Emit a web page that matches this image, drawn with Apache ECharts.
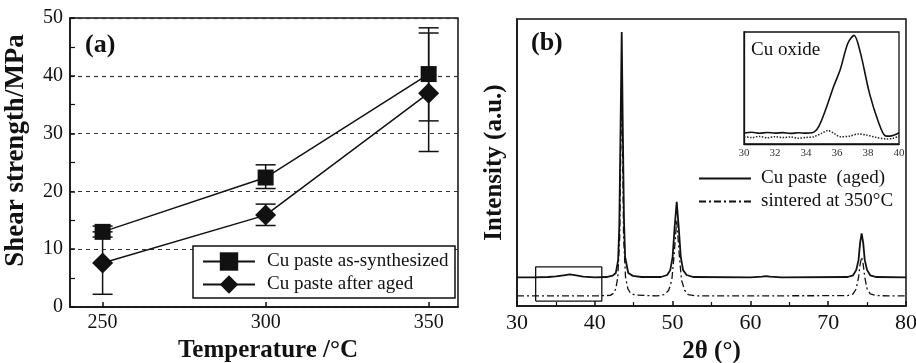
<!DOCTYPE html>
<html>
<head>
<meta charset="utf-8">
<script src="https://cdn.jsdelivr.net/npm/echarts@6/dist/echarts.min.js"></script>
<style>
  html, body { margin: 0; padding: 0; background: #fff; }
  #main { width: 916px; height: 363px; }
</style>
</head>
<body>
<div id="main"></div>
<script>
// (a) 剪切强度
const temps = [250, 300, 350]
const strengthFresh = [13.0, 22.4, 40.3]
const strengthAged = [7.6, 15.9, 37.0]
// 误差棒 [x, 下限, 上限]
const errFresh = [[250, 12.1, 14.0], [300, 20.5, 24.6], [350, 32.2, 48.3]]
const errAged = [[250, 2.2, 13.0], [300, 14.1, 17.8], [350, 26.9, 47.4]]
const tempTicks = [250, 300, 350]

// (b) XRD 图谱
const xrdAged = [[30, 10], [32, 10], [34, 10.1], [35, 10.3], [36, 10.7], [36.8, 11], [37.6, 10.7], [38.5, 10.2], [40, 10],
  [41.5, 10.1], [42.3, 10.6], [42.7, 11.5], [43.0, 16], [43.15, 28], [43.3, 60], [43.46, 95.5], [43.6, 62], [43.75, 30],
  [43.9, 17], [44.3, 11.5], [44.9, 10.5], [46, 10.1], [48.5, 10.1], [49.3, 10.8], [49.7, 12.5], [50.0, 17], [50.25, 27],
  [50.53, 36.3], [50.8, 27], [51.05, 17], [51.35, 12.5], [51.8, 10.8], [52.7, 10.1], [60, 10], [61.5, 10.2], [62, 10.4],
  [62.5, 10.2], [64, 10], [72.5, 10.1], [73.2, 10.7], [73.6, 12.5], [73.9, 16], [74.1, 22], [74.3, 25.3], [74.5, 22],
  [74.7, 16], [75.0, 12.5], [75.4, 10.7], [76.2, 10.1], [80, 10]]
const xrdSintered = [[30, 3.5], [40, 3.5], [42, 3.7], [42.4, 4.4], [42.7, 6], [42.95, 10], [43.2, 24], [43.46, 80], [43.7, 24],
  [43.95, 10], [44.25, 6], [44.6, 4.4], [45.2, 3.8], [48, 3.5], [49.0, 4], [49.5, 5.5], [49.9, 9], [50.2, 18], [50.53, 30],
  [50.85, 18], [51.15, 9], [51.55, 5.5], [52, 4], [53, 3.5], [72.5, 3.6], [73.2, 4.2], [73.6, 6], [73.9, 10], [74.1, 14.5],
  [74.3, 17], [74.5, 14.5], [74.7, 10], [75.0, 6], [75.4, 4.2], [76.2, 3.6], [80, 3.5]]
// 放大框 (30-40 区域)
const zoomBoxX = [32.4, 40.9]
const zoomBoxY = [1.7, 13.6]

// 插图: Cu oxide
const oxAged = [[30, 9.8], [30.5, 10.5], [31, 9.6], [31.5, 10.3], [32, 9.7], [32.5, 10.2], [33, 9.5], [33.5, 10], [34, 9.7],
  [34.4, 10], [34.8, 15], [35.3, 32], [35.8, 52], [36.2, 66], [36.7, 90], [37.1, 97], [37.5, 82], [38.1, 45], [38.7, 18.6],
  [39.1, 7.4], [39.4, 7], [39.7, 8], [40, 10]]
const oxSintered = [[30, 6.5], [30.5, 5.8], [31, 6.8], [31.5, 5.5], [32, 6.5], [32.5, 5.7], [33, 6.3], [33.5, 5.2], [34, 5.8],
  [34.5, 6.5], [35, 9.5], [35.4, 12], [35.8, 9.5], [36.2, 6.5], [36.8, 7], [37.4, 9], [37.9, 8], [38.5, 6], [39.2, 4.5],
  [39.6, 5], [40, 7]]

const serif = 'Liberation Serif'
const ink = '#111'

let myChart = echarts.init(document.getElementById('main'))

function errorBar(params, api) {
  let x = api.value(0)
  let lo = api.coord([x, api.value(1)])
  let hi = api.coord([x, api.value(2)])
  let w = 10
  let style = { stroke: ink, lineWidth: 1.5 }
  return {
    type: 'group',
    children: [
      { type: 'line', shape: { x1: lo[0], y1: lo[1], x2: hi[0], y2: hi[1] }, style: style },
      { type: 'line', shape: { x1: lo[0] - w, y1: lo[1], x2: lo[0] + w, y2: lo[1] }, style: style },
      { type: 'line', shape: { x1: hi[0] - w, y1: hi[1], x2: hi[0] + w, y2: hi[1] }, style: style }
    ]
  }
}

let boxData = [
  [zoomBoxX[0], zoomBoxY[0]], [zoomBoxX[1], zoomBoxY[0]], [zoomBoxX[1], zoomBoxY[1]],
  [zoomBoxX[0], zoomBoxY[1]], [zoomBoxX[0], zoomBoxY[0]]
]

let option = {
  backgroundColor: '#fff',
  animation: false,
  textStyle: { fontFamily: serif, color: ink },
  grid: [
    { left: 70, top: 18, width: 388, height: 289, outerBoundsMode: 'none', show: true, borderColor: ink, borderWidth: 1.5, backgroundColor: 'transparent' },
    { left: 517, top: 19, width: 389, height: 287, outerBoundsMode: 'none', show: true, borderColor: ink, borderWidth: 1.5, backgroundColor: 'transparent' },
    { left: 744, top: 32, width: 155, height: 112, outerBoundsMode: 'none', show: true, borderColor: ink, borderWidth: 1.3, backgroundColor: '#fff' }
  ],
  xAxis: [
    {
      gridIndex: 0, type: 'value', min: 240, max: 359,
      name: 'Temperature /°C', nameLocation: 'middle', nameGap: 29,
      nameTextStyle: { fontFamily: serif, fontWeight: 'bold', fontSize: 25, color: ink, padding: [0, 0, 0, 8] },
      axisLine: { lineStyle: { color: ink, width: 1.5 } },
      axisTick: { inside: true, length: 5, customValues: tempTicks, lineStyle: { color: ink, width: 1.5 } },
      axisLabel: { customValues: tempTicks, fontFamily: serif, fontSize: 20, color: ink, margin: 6 },
      splitLine: { show: false }
    },
    {
      gridIndex: 1, type: 'value', min: 30, max: 80, interval: 10,
      name: '2θ (°)', nameLocation: 'middle', nameGap: 30,
      nameTextStyle: { fontFamily: serif, fontWeight: 'bold', fontSize: 25, color: ink },
      axisLine: { lineStyle: { color: ink, width: 1.5 } },
      axisTick: { inside: true, length: 5, lineStyle: { color: ink, width: 1.5 } },
      minorTick: { show: true, splitNumber: 2, length: 4, lineStyle: { color: ink, width: 1.2 } },
      axisLabel: { fontFamily: serif, fontSize: 22, color: ink, margin: 6 },
      splitLine: { show: false }
    },
    {
      gridIndex: 2, type: 'value', min: 30, max: 40, interval: 2,
      axisLine: { lineStyle: { color: ink, width: 1.3 } },
      axisTick: { show: false },
      axisLabel: { fontFamily: serif, fontSize: 11, color: '#333', margin: 4 },
      splitLine: { show: false }
    }
  ],
  yAxis: [
    {
      gridIndex: 0, type: 'value', min: 0, max: 50, interval: 10,
      name: 'Shear strength/MPa', nameLocation: 'middle', nameGap: 40,
      nameTextStyle: { fontFamily: serif, fontWeight: 'bold', fontSize: 27, color: ink, padding: [0, 0, 0, 24] },
      axisLine: { lineStyle: { color: ink, width: 1.5 } },
      axisTick: { inside: true, length: 5, lineStyle: { color: ink, width: 1.5 } },
      minorTick: { show: true, splitNumber: 2, length: 5, lineStyle: { color: ink, width: 1.2 } },
      axisLabel: { fontFamily: serif, fontSize: 20, color: ink, margin: 7 },
      splitLine: { show: true, lineStyle: { color: '#333', type: [4, 4], width: 1.2 } }
    },
    {
      gridIndex: 1, type: 'value', min: 0, max: 100,
      name: 'Intensity (a.u.)', nameLocation: 'middle', nameGap: 10,
      nameTextStyle: { fontFamily: serif, fontWeight: 'bold', fontSize: 25, color: ink },
      axisLine: { lineStyle: { color: ink, width: 1.5 } },
      axisTick: { show: false }, axisLabel: { show: false }, splitLine: { show: false }
    },
    {
      gridIndex: 2, type: 'value', min: 0, max: 100,
      axisLine: { lineStyle: { color: ink, width: 1.3 } },
      axisTick: { show: false }, axisLabel: { show: false }, splitLine: { show: false }
    }
  ],
  legend: [
    {
      data: ['Cu paste as-synthesized', 'Cu paste after aged'],
      orient: 'vertical', left: 202, top: 251, padding: 0, itemGap: 2,
      itemWidth: 52, itemHeight: 23, z: 20,
      textStyle: { fontFamily: serif, fontSize: 19, color: ink, lineHeight: 21, padding: [0, 0, 0, 7] }
    },
    {
      data: ['Cu paste  (aged)', 'sintered at 350°C'],
      orient: 'vertical', left: 698, top: 168, padding: 0, itemGap: 2,
      itemWidth: 52, itemHeight: 14, z: 20,
      itemStyle: { opacity: 0 },
      textStyle: { fontFamily: serif, fontSize: 19, color: ink, lineHeight: 21, padding: [0, 0, 0, 5] }
    }
  ],
  graphic: [
    { type: 'rect', z: 10, shape: { x: 193, y: 246, width: 262, height: 52 }, style: { fill: '#fff', stroke: ink, lineWidth: 1.5 } },
    { type: 'text', z: 10, x: 85, y: 45, style: { text: '(a)', font: 'bold 26px "Liberation Serif"', fill: ink, verticalAlign: 'middle' } },
    { type: 'text', z: 10, x: 531, y: 43, style: { text: '(b)', font: 'bold 26px "Liberation Serif"', fill: ink, verticalAlign: 'middle' } },
    { type: 'text', z: 10, x: 751, y: 50, style: { text: 'Cu oxide', font: '19px "Liberation Serif"', fill: ink, verticalAlign: 'middle' } }
  ],
  series: [
    {
      type: 'custom', xAxisIndex: 0, yAxisIndex: 0, renderItem: errorBar,
      encode: { x: 0, y: [1, 2] }, data: errFresh, z: 3
    },
    {
      type: 'custom', xAxisIndex: 0, yAxisIndex: 0, renderItem: errorBar,
      encode: { x: 0, y: [1, 2] }, data: errAged, z: 3
    },
    {
      name: 'Cu paste as-synthesized', type: 'line', xAxisIndex: 0, yAxisIndex: 0,
      data: temps.map((t, i) => [t, strengthFresh[i]]),
      symbol: 'rect', symbolSize: 16, z: 4,
      lineStyle: { color: ink, width: 1.5 }, itemStyle: { color: ink }
    },
    {
      name: 'Cu paste after aged', type: 'line', xAxisIndex: 0, yAxisIndex: 0,
      data: temps.map((t, i) => [t, strengthAged[i]]),
      symbol: 'diamond', symbolSize: 21, z: 4,
      lineStyle: { color: ink, width: 1.5 }, itemStyle: { color: ink }
    },
    {
      name: 'Cu paste  (aged)', type: 'line', xAxisIndex: 1, yAxisIndex: 1,
      data: xrdAged, symbol: 'none', z: 4,
      lineStyle: { color: ink, width: 1.8 }, itemStyle: { color: ink }
    },
    {
      name: 'sintered at 350°C', type: 'line', xAxisIndex: 1, yAxisIndex: 1,
      data: xrdSintered, symbol: 'none', z: 3,
      lineStyle: { color: ink, width: 1.3, type: [7, 3, 2, 3] }, itemStyle: { color: ink }
    },
    {
      type: 'line', xAxisIndex: 1, yAxisIndex: 1, data: boxData, symbol: 'none', z: 5,
      lineStyle: { color: ink, width: 1.3 }
    },
    {
      type: 'line', xAxisIndex: 2, yAxisIndex: 2, data: oxAged, symbol: 'none', smooth: 0.3, z: 6,
      lineStyle: { color: ink, width: 1.6 }
    },
    {
      type: 'line', xAxisIndex: 2, yAxisIndex: 2, data: oxSintered, symbol: 'none', smooth: 0.3, z: 6,
      lineStyle: { color: '#222', width: 1.5, type: 'dotted' }
    }
  ]
}
myChart.setOption(option)
</script>
</body>
</html>
